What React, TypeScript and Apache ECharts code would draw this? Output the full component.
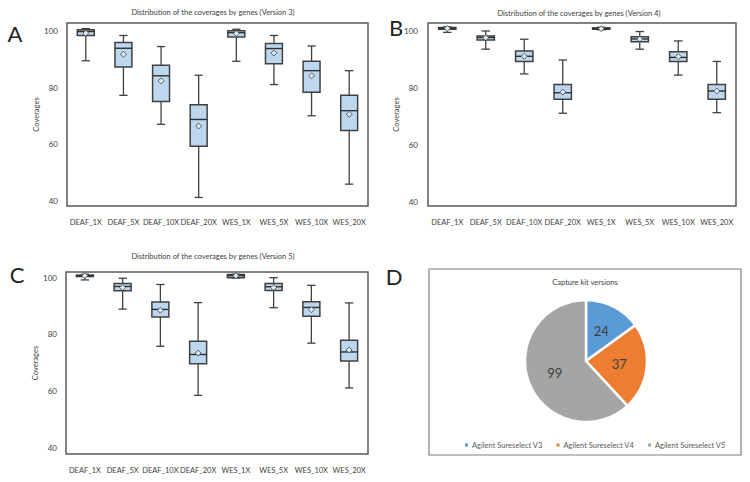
import React, { useEffect, useRef } from "react";
import * as echarts from "echarts";

const categories = ["DEAF_1X", "DEAF_5X", "DEAF_10X", "DEAF_20X", "WES_1X", "WES_5X", "WES_10X", "WES_20X"];
const yTicks = [40, 60, 80, 100];

// [low, q1, median, q3, high, mean]
const v3Stats = [
  [89.5, 98.4, 99.8, 100.4, 100.8, 99.2],
  [77.3, 87.3, 93.9, 95.9, 98.4, 91.8],
  [67.1, 75.1, 84.2, 87.9, 94.5, 82.4],
  [41.3, 59.4, 68.8, 74.0, 84.4, 66.5],
  [89.3, 97.9, 99.4, 100.1, 100.6, 99.1],
  [81.1, 88.4, 93.8, 95.6, 98.4, 92.2],
  [70.1, 78.4, 86.0, 89.3, 94.7, 84.2],
  [46.0, 64.9, 71.9, 77.3, 86.0, 70.6],
];
const v4Stats = [
  [99.5, 100.6, 100.9, 101.2, 101.4, 100.9],
  [93.6, 96.8, 97.7, 98.2, 100.0, 97.6],
  [84.9, 89.3, 91.1, 93.0, 97.1, 91.1],
  [71.1, 76.0, 78.3, 81.2, 89.8, 78.5],
  [100.4, 100.6, 100.8, 101.1, 101.3, 100.8],
  [93.6, 96.2, 97.2, 98.0, 99.8, 97.2],
  [84.5, 89.3, 90.7, 92.7, 96.5, 91.0],
  [71.3, 76.0, 78.9, 81.2, 89.3, 78.9],
];
const v5Stats = [
  [99.2, 100.4, 100.7, 100.9, 101.2, 100.7],
  [88.9, 95.4, 96.9, 97.9, 99.8, 96.5],
  [75.8, 86.1, 88.8, 91.4, 97.6, 88.5],
  [58.5, 69.6, 72.9, 77.6, 91.2, 73.4],
  [99.9, 100.0, 100.7, 101.1, 101.2, 100.7],
  [89.4, 95.5, 96.8, 97.9, 100.0, 96.5],
  [76.9, 86.4, 89.5, 91.5, 97.3, 88.7],
  [61.1, 70.6, 73.8, 77.9, 91.1, 74.5],
];

const pieNames = ["Agilent Sureselect V3", "Agilent Sureselect V4", "Agilent Sureselect V5"];
const pieValues = [24, 37, 99];
const pieColors = ["#5B9BD5", "#ED7D31", "#A5A5A5"];

const FONT = "Lato, 'Open Sans', sans-serif";
const TXT = "#404040";

function renderBox(params: any, api: any) {
  const x = api.value(0);
  const low = api.value(1), q1 = api.value(2), med = api.value(3), q3 = api.value(4), high = api.value(5), mean = api.value(6);
  const band = api.size([1, 0])[0];
  const bw = band * 0.45;
  const cw = band * 0.22;
  const pLow = api.coord([x, low]);
  const pQ1 = api.coord([x, q1]);
  const pMed = api.coord([x, med]);
  const pQ3 = api.coord([x, q3]);
  const pHigh = api.coord([x, high]);
  const pMean = api.coord([x, mean]);
  const cx = pMed[0];
  const stroke = { stroke: "#404040", lineWidth: 1.3, fill: null };
  const d = 3;
  return {
    type: "group",
    children: [
      { type: "line", shape: { x1: cx, y1: pHigh[1], x2: cx, y2: pQ3[1] }, style: stroke },
      { type: "line", shape: { x1: cx, y1: pQ1[1], x2: cx, y2: pLow[1] }, style: stroke },
      { type: "line", shape: { x1: cx - cw / 2, y1: pHigh[1], x2: cx + cw / 2, y2: pHigh[1] }, style: stroke },
      { type: "line", shape: { x1: cx - cw / 2, y1: pLow[1], x2: cx + cw / 2, y2: pLow[1] }, style: stroke },
      {
        type: "rect",
        shape: { x: cx - bw / 2, y: pQ3[1], width: bw, height: Math.max(pQ1[1] - pQ3[1], 1) },
        style: { fill: "#BDD7EE", stroke: "#404040", lineWidth: 1.5 },
      },
      { type: "line", shape: { x1: cx - bw / 2, y1: pMed[1], x2: cx + bw / 2, y2: pMed[1] }, style: { stroke: "#303030", lineWidth: 1.4 } },
      {
        type: "polygon",
        shape: { points: [[cx, pMean[1] - d], [cx + d, pMean[1]], [cx, pMean[1] + d], [cx - d, pMean[1]]] },
        style: { fill: "#DDEBF7", stroke: "#505050", lineWidth: 0.9 },
      },
    ],
  };
}

function boxSeries(stats: number[][], idx: number) {
  return {
    type: "custom",
    xAxisIndex: idx,
    yAxisIndex: idx,
    renderItem: renderBox,
    encode: { x: 0, y: [1, 2, 3, 4, 5, 6] },
    data: stats.map((r, i) => [i, ...r]),
    silent: true,
  };
}

function xAxis(idx: number) {
  return {
    type: "category",
    gridIndex: idx,
    data: categories,
    axisTick: { show: false },
    axisLine: { show: false },
    axisLabel: { fontSize: 7.5, color: TXT, fontFamily: FONT, margin: 12, interval: 0 },
  };
}

function yAxis(idx: number, min: number, max: number, labelMargin: number, nameGap: number) {
  return {
    type: "value",
    gridIndex: idx,
    min,
    max,
    splitLine: { show: false },
    axisLine: { show: false },
    axisTick: { show: false, customValues: yTicks },
    axisLabel: { fontSize: 8, color: TXT, fontFamily: FONT, margin: labelMargin, customValues: yTicks },
    name: "Coverages",
    nameLocation: "middle",
    nameGap,
    nameTextStyle: { fontSize: 7.5, color: TXT, fontFamily: FONT },
  };
}

function gridBox(left: number, top: number, width: number, height: number) {
  return { left, top, width, height, show: true, borderColor: "#595959", borderWidth: 1.5, backgroundColor: "transparent" };
}

function txt(text: string, x: number, y: number, fontSize: number, color = TXT) {
  return {
    type: "text",
    x,
    y,
    silent: true,
    style: { text, fontSize, fill: color, fontFamily: FONT, align: "center", verticalAlign: "middle" },
  };
}

export default function App() {
  const ref = useRef<HTMLDivElement>(null);
  useEffect(() => {
    if (!ref.current) return;
    const chart = echarts.init(ref.current, null, { renderer: "svg" });
    chart.setOption({
      animation: false,
      backgroundColor: "#ffffff",
      grid: [gridBox(67, 23, 301, 183), gridBox(428, 23, 308, 183), gridBox(66, 272, 302, 182)],
      xAxis: [xAxis(0), xAxis(1), xAxis(2)],
      yAxis: [yAxis(0, 38.3, 102.8, 9, 20), yAxis(1, 38.5, 102.8, 10, 22), yAxis(2, 37.8, 102.0, 9, 20)],
      legend: {
        data: pieNames.map((n, i) => ({ name: n, itemStyle: { color: pieColors[i] } })),
        left: 458,
        top: 436,
        width: 285,
        icon: "rect",
        itemWidth: 5,
        itemHeight: 5,
        itemGap: 12,
        textStyle: { fontSize: 7.5, color: "#595959", fontFamily: FONT, padding: [0, 0, 0, -2] },
      },
      series: [
        boxSeries(v3Stats, 0),
        boxSeries(v4Stats, 1),
        boxSeries(v5Stats, 2),
        {
          type: "pie",
          center: [586, 361],
          radius: 61,
          startAngle: 90,
          clockwise: true,
          silent: true,
          data: pieNames.map((n, i) => ({ name: n, value: pieValues[i], itemStyle: { color: pieColors[i] } })),
          itemStyle: { borderColor: "#ffffff", borderWidth: 2.5 },
          label: { show: true, position: "inner", formatter: "{c}", fontSize: 13, color: TXT, fontFamily: FONT },
          labelLine: { show: false },
        },
      ],
      graphic: [
        txt("Distribution of the coverages by genes (Version 3)", 213, 12, 7.5),
        txt("Distribution of the coverages by genes (Version 4)", 579, 13, 7.5),
        txt("Distribution of the coverages by genes (Version 5)", 213, 256, 7.5),
        txt("Capture kit versions", 585, 282, 7.5),
        txt("A", 15, 33, 22, "#222"),
        txt("B", 396, 27, 22, "#222"),
        txt("C", 17, 274, 22, "#222"),
        txt("D", 394, 276, 22, "#222"),
        {
          type: "rect",
          silent: true,
          shape: { x: 429, y: 269, width: 312, height: 186 },
          style: { fill: null, stroke: "#7F7F7F", lineWidth: 1.2 },
        },
      ],
    });
    return () => chart.dispose();
  }, []);
  return <div ref={ref} style={{ position: "absolute", left: 0, top: 0, width: 750, height: 482 }} />;
}
